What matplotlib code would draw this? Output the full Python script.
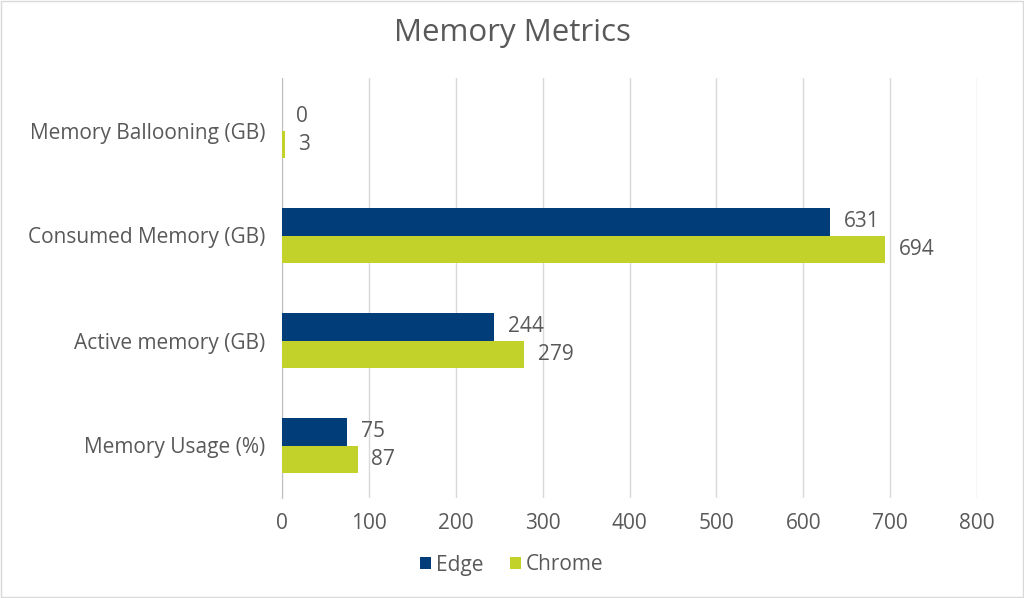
import matplotlib
matplotlib.use("Agg")
import matplotlib.pyplot as plt
import numpy as np

# data
categories = ["Memory Ballooning (GB)", "Consumed Memory (GB)", "Active memory (GB)", "Memory Usage (%)"]
edge = [0, 631, 244, 75]
chrome = [3, 694, 279, 87]
series_names = ["Edge", "Chrome"]
xticks = [0, 100, 200, 300, 400, 500, 600, 700, 800]

edge_col = "#003D79"
chrome_col = "#C3D22B"
txt_col = "#595959"

plt.rcParams['font.family'] = ['Open Sans', 'DejaVu Sans']

fig = plt.figure(figsize=(10.24, 5.98), dpi=100)
ax = fig.add_axes([282 / 1024, 1 - 498 / 598, 695 / 1024, 420 / 598])

y = np.arange(len(categories))
h = 0.26
ax.barh(y - h / 2, edge, height=h, color=edge_col, label=series_names[0], zorder=3)
ax.barh(y + h / 2, chrome, height=h, color=chrome_col, label=series_names[1], zorder=3)

fs = 15
for i in range(len(categories)):
    ax.annotate(str(edge[i]), (edge[i], y[i] - h / 2), xytext=(10, 0), textcoords="offset points",
                va="center", ha="left", fontsize=fs, color=txt_col)
    ax.annotate(str(chrome[i]), (chrome[i], y[i] + h / 2), xytext=(10, 0), textcoords="offset points",
                va="center", ha="left", fontsize=fs, color=txt_col)

ax.set_xlim(0, 800)
ax.set_ylim(3.5, -0.5)
ax.set_xticks(xticks)
ax.set_yticks(y)
ax.set_yticklabels(categories)
ax.tick_params(axis="both", length=0, labelsize=fs, colors=txt_col)
ax.tick_params(axis="x", pad=11)
ax.tick_params(axis="y", pad=12)
ax.grid(axis="x", color="#D9D9D9", linewidth=1, zorder=0)
for s in ["top", "right", "bottom"]:
    ax.spines[s].set_visible(False)
ax.spines["left"].set_color("#BFBFBF")

fig.text(0.5, 1 - 33 / 598, "Memory Metrics", ha="center", va="center", fontsize=22.5, color=txt_col)

leg = fig.legend(loc="center", bbox_to_anchor=(0.5, 1 - 565 / 598), ncol=2, frameon=False,
                 fontsize=fs, handlelength=0.5, handleheight=0.5, handletextpad=0.25, columnspacing=1.3)
for t in leg.get_texts():
    t.set_color(txt_col)

# faint border
fig.patches.append(plt.Rectangle((0.001, 0.001), 0.998, 0.997, transform=fig.transFigure,
                                 fill=False, edgecolor="#D9D9D9", linewidth=1))

fig.savefig("out.png", dpi=100, facecolor="white")
